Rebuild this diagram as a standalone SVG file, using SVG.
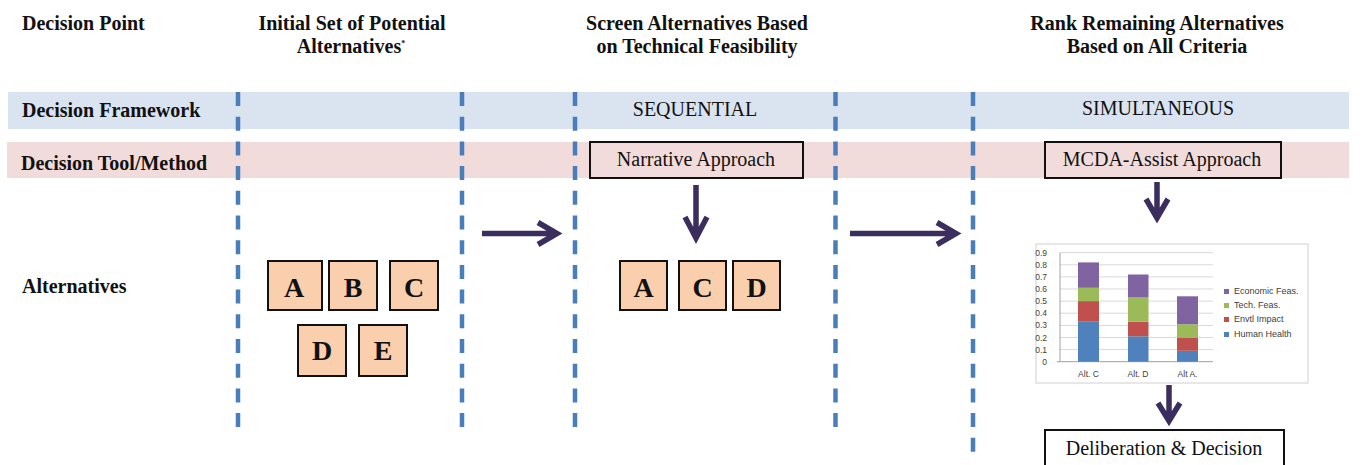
<svg xmlns="http://www.w3.org/2000/svg" width="1365" height="465" viewBox="0 0 1365 465">
<defs>
<style>
.hdr{font-family:"Liberation Serif","Times New Roman",serif;font-weight:bold;font-size:20px;fill:#111}
.reg{font-family:"Liberation Serif","Times New Roman",serif;font-size:20px;fill:#111}
.ltr{font-family:"Liberation Serif","Times New Roman",serif;font-weight:bold;font-size:28px;fill:#111;text-anchor:middle}
.mid{text-anchor:middle}
.box{fill:#f9cfae;stroke:#111;stroke-width:2}
.tool{fill:#f2dcdb;stroke:#111;stroke-width:2}
.dash{stroke:#4a7ebb;stroke-width:4.5;stroke-dasharray:14 10.7;fill:none}
.arr{stroke:#3b2d5e;stroke-width:5.5;fill:none;stroke-linecap:butt;stroke-linejoin:miter}
.ax{font-family:"Liberation Sans",Arial,sans-serif;font-size:8.5px;fill:#404040}
.lg{font-family:"Liberation Sans",Arial,sans-serif;font-size:9px;fill:#404040}
.grid{stroke:#d9d9d9;stroke-width:1}
.hh{fill:#4f81bd}.ei{fill:#c0504d}.tf{fill:#9bbb59}.ef{fill:#8064a2}
</style>
</defs>
<rect width="1365" height="465" fill="#fff"/>
<g id="bands">
<rect x="8" y="92" width="1341" height="37" fill="#dae3f0"/>
<rect x="7" y="142" width="1342" height="36" fill="#f2dcdb"/>
</g>
<g id="headers">
<text class="hdr" x="22" y="30">Decision Point</text>
<text class="hdr mid" x="352" y="30">Initial Set of Potential</text>
<text class="hdr mid" x="351" y="53">Alternatives<tspan font-size="8" dy="-7">*</tspan></text>
<text class="hdr mid" x="697" y="30">Screen Alternatives Based</text>
<text class="hdr mid" x="697" y="53">on Technical Feasibility</text>
<text class="hdr mid" x="1157" y="30">Rank Remaining Alternatives</text>
<text class="hdr mid" x="1157" y="53">Based on All Criteria</text>
<text class="hdr" x="22" y="117">Decision Framework</text>
<text class="hdr" x="21" y="170">Decision Tool/Method</text>
<text class="hdr" x="22" y="293">Alternatives</text>
<text class="reg mid" x="695" y="116">SEQUENTIAL</text>
<text class="reg mid" x="1158" y="115">SIMULTANEOUS</text>
</g>
<g id="dividers">
<line class="dash" x1="238" y1="92" x2="238" y2="427"/>
<line class="dash" x1="462" y1="92" x2="462" y2="427"/>
<line class="dash" x1="575" y1="92" x2="575" y2="427"/>
<line class="dash" x1="835.5" y1="92" x2="835.5" y2="427"/>
<line class="dash" x1="973" y1="92" x2="973" y2="455"/>
</g>
<g id="node-narrative">
<rect class="tool" x="590" y="142" width="213" height="36"/>
<text class="reg mid" x="696" y="166">Narrative Approach</text>
</g>
<g id="node-mcda">
<rect class="tool" x="1045" y="142" width="236" height="36"/>
<text class="reg mid" x="1162" y="166">MCDA-Assist Approach</text>
</g>
<g id="node-initial-alts">
<rect class="box" x="268" y="261" width="54" height="49"/><text class="ltr" x="294" y="297">A</text>
<rect class="box" x="329" y="261" width="48" height="49"/><text class="ltr" x="353" y="297">B</text>
<rect class="box" x="390" y="261" width="48" height="49"/><text class="ltr" x="414" y="297">C</text>
<rect class="box" x="298" y="325" width="48" height="51"/><text class="ltr" x="322" y="360">D</text>
<rect class="box" x="359" y="325" width="48" height="51"/><text class="ltr" x="383" y="360">E</text>
</g>
<g id="node-screened-alts">
<rect class="box" x="620" y="261" width="47" height="49"/><text class="ltr" x="643.5" y="297">A</text>
<rect class="box" x="679" y="261" width="47" height="49"/><text class="ltr" x="702.5" y="297">C</text>
<rect class="box" x="733" y="261" width="47" height="49"/><text class="ltr" x="756.5" y="297">D</text>
</g>
<g id="node-chart">
<rect x="1036" y="244" width="272" height="139" fill="#fff" stroke="#d0d0d0" stroke-width="1"/>
<g class="grid">
<line x1="1060" y1="252.7" x2="1213" y2="252.7"/>
<line x1="1060" y1="264.8" x2="1213" y2="264.8"/>
<line x1="1060" y1="276.9" x2="1213" y2="276.9"/>
<line x1="1060" y1="289" x2="1213" y2="289"/>
<line x1="1060" y1="301.1" x2="1213" y2="301.1"/>
<line x1="1060" y1="313.2" x2="1213" y2="313.2"/>
<line x1="1060" y1="325.4" x2="1213" y2="325.4"/>
<line x1="1060" y1="337.5" x2="1213" y2="337.5"/>
<line x1="1060" y1="349.6" x2="1213" y2="349.6"/>
</g>
<line x1="1060" y1="252.7" x2="1060" y2="361.7" stroke="#a0a0a0"/>
<line x1="1057" y1="361.7" x2="1213" y2="361.7" stroke="#a0a0a0"/>
<g class="ax" text-anchor="end">
<text x="1047" y="255.7">0.9</text><text x="1047" y="267.8">0.8</text><text x="1047" y="279.9">0.7</text>
<text x="1047" y="292">0.6</text><text x="1047" y="304.1">0.5</text><text x="1047" y="316.2">0.4</text>
<text x="1047" y="328.4">0.3</text><text x="1047" y="340.5">0.2</text><text x="1047" y="352.6">0.1</text>
<text x="1047" y="364.7">0</text>
</g>
<rect class="hh" x="1078" y="321.7" width="21" height="40"/>
<rect class="ei" x="1078" y="301.1" width="21" height="20.6"/>
<rect class="tf" x="1078" y="287.8" width="21" height="13.3"/>
<rect class="ef" x="1078" y="262.4" width="21" height="25.4"/>
<rect class="hh" x="1128" y="336.3" width="20.5" height="25.4"/>
<rect class="ei" x="1128" y="321.7" width="20.5" height="14.6"/>
<rect class="tf" x="1128" y="297.5" width="20.5" height="24.2"/>
<rect class="ef" x="1128" y="274.5" width="20.5" height="23"/>
<rect class="hh" x="1177" y="350.8" width="21" height="10.9"/>
<rect class="ei" x="1177" y="337.5" width="21" height="13.3"/>
<rect class="tf" x="1177" y="324.2" width="21" height="13.3"/>
<rect class="ef" x="1177" y="296.3" width="21" height="27.9"/>
<g class="ax" text-anchor="middle">
<text x="1088.5" y="376.5">Alt. C</text><text x="1138" y="376.5">Alt. D</text><text x="1187.5" y="376.5">Alt A.</text>
</g>
<rect class="ef" x="1224" y="289" width="5" height="5"/><text class="lg" x="1234" y="294">Economic Feas.</text>
<rect class="tf" x="1224" y="303" width="5" height="5"/><text class="lg" x="1234" y="308">Tech. Feas.</text>
<rect class="ei" x="1224" y="317" width="5" height="5"/><text class="lg" x="1234" y="322">Envtl Impact</text>
<rect class="hh" x="1224" y="332" width="5" height="5"/><text class="lg" x="1234" y="337">Human Health</text>
</g>
<g id="node-deliberation">
<rect x="1045" y="430" width="239" height="45" fill="#fff" stroke="#111" stroke-width="2"/>
<text class="reg mid" x="1164" y="455">Deliberation &amp; Decision</text>
</g>
<g id="connectors">
<path class="arr" d="M482 233.5H556M538 222.5L557 233.5L538 244.5"/>
<path class="arr" d="M850 233.5H955M937 222.5L956 233.5L937 244.5"/>
<path class="arr" d="M696 185V238M685 217L696 238L707 217"/>
<path class="arr" stroke-width="6.5" d="M1157 182V217M1146 199L1157 218L1168 199"/>
<path class="arr" stroke-width="6.5" d="M1169 385V421M1158 403L1169 421L1180 403"/>
</g>
</svg>
